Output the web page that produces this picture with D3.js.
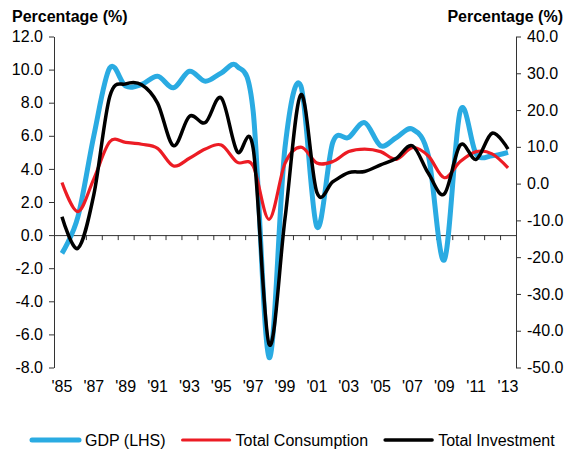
<!DOCTYPE html>
<html>
<head>
<meta charset="utf-8">
<script src="https://cdn.jsdelivr.net/npm/d3@7"></script>
<style>
  body { margin: 0; background: #fff; }
  text { font-family: "Liberation Sans", Arial, sans-serif; }
</style>
</head>
<body>
<div id="chart"></div>
<script>
// chart values
const years = d3.range(1985, 2014);
const gdp = [-1.1, 1.1, 6.0, 10.1, 9.0, 9.1, 9.6, 8.9, 9.9, 9.3, 9.8, 10.2, 7.5, -7.4, 5.3, 9.0,
             0.5, 5.6, 5.9, 6.8, 5.4, 5.9, 6.4, 4.8, -1.5, 7.5, 4.9, 4.8, 5.0];
const consumption = [0.3, -7.6, 1.3, 11.4, 11.2, 10.7, 9.6, 4.8, 6.9, 9.4, 10.5, 5.8, 4.8, -9.7, 5.5, 9.9,
                     5.6, 6.0, 8.7, 9.4, 8.7, 6.6, 9.8, 7.5, 1.6, 6.0, 8.7, 8.1, 4.3];
const investment = [-9.0, -17.6, -3.0, 23.7, 27.1, 26.9, 21.9, 10.3, 18.3, 16.6, 23.3, 8.7, 9.6, -43.7, -9.5, 24.2,
                    -2.4, 0.5, 3.0, 3.3, 5.1, 6.9, 10.3, 2.8, -2.8, 10.5, 6.6, 13.7, 9.4];
const leftTicks = d3.range(-8, 12.1, 2);
const rightTicks = d3.range(-50, 40.1, 10);
const yearLabels = years.filter((d, i) => i % 2 === 0);
const seriesNames = ["GDP (LHS)", "Total Consumption", "Total Investment"];

const width = 572, height = 449;
const margin = {left: 54, right: 56, top: 36.5, bottom: 81.5};

const svg = d3.select("#chart").append("svg")
  .attr("width", width)
  .attr("height", height);

const x = d3.scaleBand().domain(years).range([margin.left, width - margin.right]);
const xEdge = d3.scaleLinear().domain([0, years.length]).range([margin.left, width - margin.right]);
const yL = d3.scaleLinear().domain([-8, 12]).range([height - margin.bottom, margin.top]);
const yR = d3.scaleLinear().domain([-50, 40]).range([height - margin.bottom, margin.top]);
const cx = d => x(d) + x.bandwidth() / 2;

// left axis
const gl = svg.append("g")
  .attr("transform", `translate(${margin.left},0)`)
  .call(d3.axisLeft(yL).tickValues(leftTicks).tickFormat(d => d.toFixed(1)).tickSize(5).tickSizeOuter(0).tickPadding(6));

// right axis
const gr = svg.append("g")
  .attr("transform", `translate(${width - margin.right},0)`)
  .call(d3.axisRight(yR).tickValues(rightTicks).tickFormat(d => d.toFixed(1)).tickSize(5).tickSizeOuter(0).tickPadding(6));

// x axis line through zero, with ticks between years
const gx = svg.append("g")
  .attr("transform", `translate(0,${yL(0)})`)
  .call(d3.axisBottom(xEdge).tickValues(d3.range(1, years.length)).tickFormat("").tickSize(5).tickSizeOuter(0));

// year labels at the bottom
const gy = svg.append("g")
  .attr("transform", `translate(0,${height - margin.bottom + 8})`)
  .call(d3.axisBottom(x).tickValues(yearLabels).tickFormat(d => "'" + String(d).slice(2)).tickSize(0).tickPadding(5));
gy.select(".domain").remove();

[gl, gr, gx, gy].forEach(g => {
  g.selectAll(".domain, line").attr("stroke", "#333");
  g.selectAll("text").attr("font-size", 16).attr("fill", "#000")
    .attr("font-family", "Liberation Sans, Arial, sans-serif");
});

// axis titles
svg.append("text").attr("x", 12).attr("y", 22)
  .attr("font-size", 16).attr("font-weight", "bold").text("Percentage (%)");
svg.append("text").attr("x", 563).attr("y", 22).attr("text-anchor", "end")
  .attr("font-size", 16).attr("font-weight", "bold").text("Percentage (%)");

// lines
const curve = d3.curveCardinal.tension(0);
const lineL = d3.line().x((d, i) => cx(years[i])).y(d => yL(d)).curve(curve);
const lineR = d3.line().x((d, i) => cx(years[i])).y(d => yR(d)).curve(curve);

const series = [
  {name: seriesNames[0], data: gdp, line: lineL, color: "#2aabe2", w: 5},
  {name: seriesNames[1], data: consumption, line: lineR, color: "#ec1c24", w: 3.2},
  {name: seriesNames[2], data: investment, line: lineR, color: "#000000", w: 3.5}
];

svg.selectAll(".series")
  .data(series)
  .enter()
  .append("path")
    .attr("class", "series")
    .attr("d", d => d.line(d.data))
    .attr("fill", "none")
    .attr("stroke", d => d.color)
    .attr("stroke-width", d => d.w)
    .attr("stroke-linejoin", "round");

// legend along the bottom
const legend = svg.append("g").attr("transform", "translate(32,440)");
let lx = 0;
const items = legend.selectAll(".item")
  .data(series)
  .enter()
  .append("g")
  .attr("class", "item");
items.append("line")
  .attr("x1", 0).attr("x2", 47)
  .attr("stroke", d => d.color)
  .attr("stroke-width", d => d.w)
  .attr("stroke-linecap", "round");
items.append("text")
  .attr("x", 53).attr("y", 6)
  .attr("font-size", 16)
  .text(d => d.name);
items.each(function() {
  const w = this.getBBox().width;
  d3.select(this).attr("transform", `translate(${lx},0)`);
  lx += w + 17;
});
</script>
</body>
</html>
